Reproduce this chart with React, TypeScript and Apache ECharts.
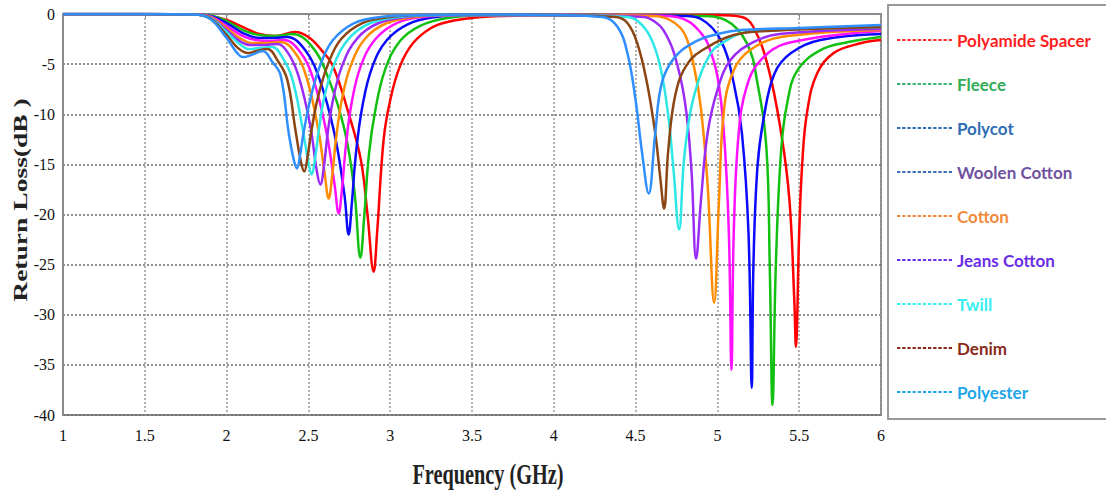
import React, { useEffect, useRef } from "react";
import * as echarts from "echarts";

// ---------- DATA ----------
const seriesNames = [
  "Polyamide Spacer",
  "Fleece",
  "Polycot",
  "Woolen Cotton",
  "Cotton",
  "Jeans Cotton",
  "Twill",
  "Denim",
  "Polyester",
];

// [frequency (GHz), return loss (dB)]
const polyamideSpacer: [number, number][] = [
  [1, 0], [1.5, 0], [1.8, -0.05], [1.9, -0.2], [2.0, -0.6], [2.1, -1.3], [2.2, -2.0], [2.3, -2.2],
  [2.42, -1.8], [2.5, -2.3], [2.58, -3.6], [2.65, -5.2], [2.74, -9.6], [2.82, -14.5], [2.86, -19.8],
  [2.899, -25.7], [2.92, -21.8], [2.96, -12.5], [3.0, -8.6], [3.06, -5.2], [3.14, -2.9], [3.25, -1.4],
  [3.35, -0.8], [3.5, -0.4], [3.7, -0.2], [4.0, -0.1], [5.0, -0.1], [5.15, -0.3], [5.22, -1.3],
  [5.31, -5.3], [5.39, -11.9], [5.44, -18.5], [5.47, -28.5], [5.48, -33.2], [5.5, -21.8], [5.52, -14.5],
  [5.55, -9.6], [5.61, -5.9], [5.71, -3.9], [5.88, -2.9], [6.0, -2.6],
];
const fleece: [number, number][] = [
  [1, 0], [1.5, 0], [1.8, -0.05], [1.9, -0.15], [2.0, -0.7], [2.1, -1.6], [2.2, -2.1], [2.3, -2.2],
  [2.4, -2.0], [2.52, -3.2], [2.62, -6.3], [2.72, -11.5], [2.78, -17.5], [2.818, -24.3], [2.84, -20.5],
  [2.87, -14], [2.91, -9.5], [2.97, -5.5], [3.06, -2.7], [3.18, -1.2], [3.35, -0.4], [3.6, -0.1],
  [4.0, -0.1], [4.9, -0.2], [5.05, -0.6], [5.18, -2.9], [5.245, -6.9], [5.3, -13.5], [5.32, -25.2],
  [5.337, -39.0], [5.357, -25.2], [5.39, -13.5], [5.43, -8.6], [5.49, -5.6], [5.63, -3.6], [5.8, -2.8],
  [6.0, -2.3],
];
const polycot: [number, number][] = [
  [1, 0], [1.5, 0], [1.8, -0.05], [1.9, -0.2], [2.0, -0.9], [2.1, -1.9], [2.2, -2.4], [2.28, -2.4],
  [2.37, -2.3], [2.48, -3.6], [2.57, -6.6], [2.66, -12], [2.72, -18], [2.746, -22.0], [2.765, -19],
  [2.79, -14], [2.83, -9.2], [2.89, -5.3], [2.98, -2.6], [3.11, -1.0], [3.28, -0.3], [3.5, -0.1],
  [4.0, -0.1], [4.8, -0.2], [4.9, -0.5], [5.02, -2.6], [5.1, -6.9], [5.15, -11.9], [5.19, -21.8],
  [5.21, -37.3], [5.22, -25.2], [5.245, -15.2], [5.285, -10.2], [5.35, -5.9], [5.45, -3.9], [5.63, -2.6],
  [6.0, -2.0],
];
const woolenCotton: [number, number][] = [
  [1, 0], [1.5, 0], [1.8, -0.05], [1.9, -0.25], [2.0, -1.2], [2.1, -2.2], [2.18, -2.6], [2.26, -2.7],
  [2.35, -2.6], [2.45, -3.8], [2.53, -6.5], [2.61, -11.8], [2.66, -17], [2.685, -19.9], [2.705, -17.5],
  [2.73, -13], [2.765, -8.8], [2.82, -5.2], [2.91, -2.5], [3.04, -0.9], [3.2, -0.3], [3.45, -0.1],
  [4.0, -0.1], [4.7, -0.2], [4.82, -0.7], [4.9, -1.9], [4.94, -2.9], [5.0, -6.2], [5.04, -11.9],
  [5.07, -21.8], [5.086, -35.5], [5.1, -21.8], [5.13, -11.9], [5.18, -7.2], [5.265, -4.6], [5.43, -2.9],
  [6.0, -1.7],
];
const cotton: [number, number][] = [
  [1, 0], [1.5, 0], [1.8, -0.05], [1.9, -0.3], [2.0, -1.4], [2.08, -2.4], [2.16, -2.9], [2.24, -2.9],
  [2.33, -2.8], [2.42, -3.9], [2.49, -6.4], [2.56, -11.5], [2.6, -16], [2.624, -18.4], [2.645, -16.2],
  [2.67, -12.3], [2.705, -8.5], [2.76, -5.1], [2.85, -2.4], [2.98, -0.9], [3.15, -0.3], [3.4, -0.1],
  [4.0, -0.1], [4.6, -0.2], [4.71, -0.6], [4.8, -2.0], [4.86, -5.5], [4.9, -9.5], [4.94, -17],
  [4.98, -28.8], [5.01, -18.5], [5.04, -9.6], [5.1, -5.6], [5.2, -3.6], [5.39, -2.3], [6.0, -1.6],
];
const jeansCotton: [number, number][] = [
  [1, 0], [1.5, 0], [1.8, -0.05], [1.9, -0.35], [2.0, -1.6], [2.08, -2.7], [2.15, -3.1], [2.22, -3.1],
  [2.31, -3.0], [2.38, -4.0], [2.44, -6.2], [2.51, -11], [2.55, -15.5], [2.573, -17.0], [2.595, -15.2],
  [2.62, -11.6], [2.655, -8.2], [2.71, -5.0], [2.8, -2.4], [2.93, -0.9], [3.1, -0.3], [3.35, -0.1],
  [4.0, -0.1], [4.55, -0.3], [4.62, -0.8], [4.67, -1.6], [4.735, -3.9], [4.8, -8.6], [4.84, -15.2],
  [4.87, -24.4], [4.9, -18.5], [4.94, -11.9], [5.0, -7.6], [5.08, -4.6], [5.22, -2.8], [5.38, -2.0],
  [6.0, -1.5],
];
const twill: [number, number][] = [
  [1, 0], [1.5, 0], [1.8, -0.05], [1.9, -0.4], [2.0, -1.8], [2.08, -3.0], [2.14, -3.5], [2.2, -3.4],
  [2.28, -3.3], [2.34, -4.3], [2.4, -6.4], [2.46, -11], [2.5, -14.8], [2.52, -16.0], [2.54, -14.5],
  [2.565, -11.4], [2.6, -8.1], [2.66, -4.9], [2.75, -2.4], [2.88, -0.9], [3.05, -0.3], [3.3, -0.1],
  [4.0, -0.1], [4.45, -0.3], [4.52, -0.8], [4.59, -2.3], [4.65, -5.2], [4.7, -10.2], [4.73, -15.2],
  [4.766, -21.5], [4.796, -14.5], [4.837, -9.6], [4.9, -5.9], [4.96, -3.9], [5.0, -3.2], [5.18, -1.8],
  [5.5, -1.5], [6.0, -1.3],
];
const denim: [number, number][] = [
  [1, 0], [1.5, 0], [1.8, -0.05], [1.9, -0.45], [2.0, -2.1], [2.07, -3.4], [2.13, -3.9], [2.18, -3.7],
  [2.25, -3.5], [2.31, -4.6], [2.37, -6.5], [2.42, -11.5], [2.455, -14.8], [2.475, -15.7], [2.495, -14.2],
  [2.52, -11.5], [2.56, -8.2], [2.62, -5.0], [2.7, -2.5], [2.83, -0.9], [3.0, -0.3], [3.2, -0.1],
  [3.5, -0.05], [4.0, -0.1], [4.38, -0.3], [4.45, -0.9], [4.51, -2.9], [4.57, -6.9], [4.62, -11.9],
  [4.65, -16.2], [4.674, -19.4], [4.7, -13.5], [4.745, -7.9], [4.82, -4.9], [4.94, -3.3], [5.1, -2.1],
  [5.3, -1.7], [6.0, -1.3],
];
const polyester: [number, number][] = [
  [1, 0], [1.5, 0], [1.8, -0.05], [1.9, -0.5], [2.0, -2.4], [2.06, -3.8], [2.1, -4.3], [2.15, -4.1],
  [2.22, -3.7], [2.28, -4.8], [2.33, -6.1], [2.38, -11.9], [2.41, -14.5], [2.43, -15.4], [2.45, -14.0],
  [2.47, -11.9], [2.51, -8.6], [2.57, -5.2], [2.65, -2.6], [2.78, -0.9], [2.94, -0.3], [3.2, -0.1],
  [3.5, -0.05], [4.0, -0.1], [4.3, -0.3], [4.39, -1.3], [4.45, -3.9], [4.5, -8.6], [4.54, -13.9],
  [4.58, -17.9], [4.62, -11.9], [4.66, -6.9], [4.735, -4.4], [4.86, -2.8], [5.0, -2.0], [5.14, -1.6],
  [5.5, -1.4], [6.0, -1.1],
];

const seriesData = [polyamideSpacer, fleece, polycot, woolenCotton, cotton, jeansCotton, twill, denim, polyester];

const lineColors = ["#ff0000", "#12c012", "#0a0aff", "#ff10ff", "#ff8c00", "#9a2cf5", "#2de6e6", "#8b4513", "#2f8fff"];
const legendTextColors = ["#ff1f1f", "#2fae55", "#2f6db5", "#7052a0", "#f08a3c", "#6a2ee6", "#38f0f0", "#8a2a1a", "#1ea6e8"];
const legendIconColors = ["#ff2a2a", "#3cb371", "#2f6db5", "#3d6fb8", "#f08a3c", "#6a2ee6", "#38f0f0", "#8a2a1a", "#1ea6e8"];

const xMin = 1, xMax = 6, xStep = 0.5;
const yMin = -40, yMax = 0, yStep = 5;

const xTitle = "Frequency (GHz)";
const yTitle = "Return Loss(dB )";

// dashed legend icon
let dashPath = "path://";
for (let i = 0; i < 11; i++) dashPath += `M${i * 5},0h3.2v2h-3.2z`;

export default function App() {
  const ref = useRef<HTMLDivElement>(null);
  useEffect(() => {
    const chart = echarts.init(ref.current!, null, { renderer: "svg" });
    chart.setOption({
      animation: false,
      backgroundColor: "#ffffff",
      grid: {
        left: 63, right: 225, top: 14, bottom: 82,
        show: true, borderColor: "#8c8c8c", borderWidth: 2, backgroundColor: "transparent",
      },
      xAxis: {
        type: "value", min: xMin, max: xMax, interval: xStep,
        axisLine: { show: true, lineStyle: { color: "#8c8c8c", width: 2 } },
        axisTick: { show: true, length: 4, lineStyle: { color: "#888" } },
        axisLabel: { color: "#111", fontFamily: "Liberation Serif", fontSize: 16, margin: 12 },
        splitLine: { show: true, lineStyle: { color: "#9a9a9a", type: [2, 2], width: 1.5 } },
      },
      yAxis: {
        type: "value", min: yMin, max: yMax, interval: yStep,
        axisLine: { show: true, lineStyle: { color: "#8c8c8c", width: 2 } },
        axisTick: { show: false },
        axisLabel: { color: "#111", fontFamily: "Liberation Serif", fontSize: 16, margin: 8 },
        splitLine: { show: true, lineStyle: { color: "#6a6a6a", type: [2, 2], width: 1.5 } },
      },
      legend: {
        orient: "vertical",
        left: 888, top: 5,
        padding: [25, 40, 17, 9],
        borderColor: "#9a9a9a", borderWidth: 2,
        itemWidth: 55, itemHeight: 2.5, itemGap: 24,
        icon: dashPath,
        textStyle: { fontFamily: "Lato", fontWeight: "bold", fontSize: 17, lineHeight: 20 },
        data: seriesNames.map((n, i) => ({
          name: n,
          itemStyle: { color: legendIconColors[i] },
          textStyle: { color: legendTextColors[i] },
        })),
      },
      graphic: [
        {
          type: "text", x: 488, y: 474, scaleX: 0.7,
          style: { text: xTitle, font: 'bold 29px "Liberation Serif"', fill: "#222", align: "center", verticalAlign: "middle" },
        },
        {
          type: "text", x: 21, y: 200, rotation: Math.PI / 2, scaleX: 1.45,
          style: { text: yTitle, font: 'bold 19px "Liberation Serif"', fill: "#222", align: "center", verticalAlign: "middle" },
        },
      ],
      series: seriesNames.map((n, i) => ({
        name: n,
        type: "line",
        data: seriesData[i],
        symbol: "none",
        showSymbol: false,
        smooth: 0.4,
        lineStyle: { color: lineColors[i], width: 2.5 },
        itemStyle: { color: lineColors[i] },
      })),
    });
    return () => chart.dispose();
  }, []);
  return (
    <div
      ref={ref}
      style={{ position: "absolute", left: 0, top: 0, width: 1106, height: 497, background: "#fff" }}
    />
  );
}
